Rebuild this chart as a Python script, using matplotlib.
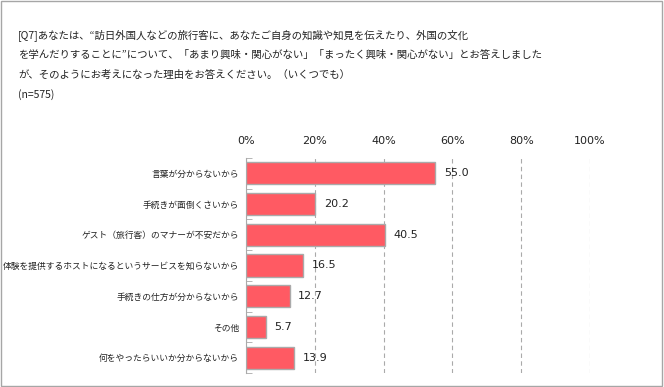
import matplotlib
matplotlib.use('Agg')
import matplotlib.pyplot as plt
from matplotlib.patches import Rectangle

plt.rcParams['font.family'] = ['Noto Sans CJK JP', 'DejaVu Sans']

categories = ['言葉が分からないから', '手続きが面倒くさいから', 'ゲスト（旅行客）のマナーが不安だから',
              '体験を提供するホストになるというサービスを知らないから', '手続きの仕方が分からないから',
              'その他', '何をやったらいいか分からないから']
values = [55.0, 20.2, 40.5, 16.5, 12.7, 5.7, 13.9]
ticks = [0, 20, 40, 60, 80, 100]
tick_labels = ['0%', '20%', '40%', '60%', '80%', '100%']

title_lines = ['[Q7]あなたは、“訪日外国人などの旅行客に、あなたご自身の知識や知見を伝えたり、外国の文化',
               'を学んだりすることに”について、「あまり興味・関心がない」「まったく興味・関心がない」とお答えしました',
               'が、そのようにお考えになった理由をお答えください。（いくつでも）',
               '(n=575)']

bar_color = '#FF5A63'

fig = plt.figure(figsize=(6.64, 3.87), dpi=100)
fig.patches.append(Rectangle((0.002, 0.003), 0.995, 0.994, transform=fig.transFigure,
                             fill=False, edgecolor='#A6A6A6', linewidth=1))

for i, line in enumerate(title_lines):
    fig.text(18/664, 1 - (35 + i*20)/387, line, fontsize=7.5, va='center', ha='left', color='#222222')

ax = fig.add_axes([246/664, 14/387, 344/664, 215/387])
y = list(range(len(categories)))
ax.barh(y, values, height=0.72, color=bar_color, edgecolor='#AAAAAA', linewidth=1, zorder=3)
for yi, v in zip(y, values):
    ax.text(v + 2.5, yi, f'{v:.1f}', va='center', ha='left', fontsize=8, color='#222222',
            family='DejaVu Sans', zorder=4)

ax.set_xlim(0, 100)
ax.set_ylim(len(categories) - 0.5, -0.5)
ax.set_xticks(ticks)
ax.set_xticklabels(tick_labels, fontsize=8, family='DejaVu Sans', color='#222222')
ax.xaxis.tick_top()
ax.tick_params(axis='x', length=0, pad=9)
ax.set_yticks(y)
ax.set_yticklabels(categories, fontsize=6.3, color='#222222')
ax.tick_params(axis='y', length=0, pad=5)
ax.set_yticks([i + 0.5 for i in range(-1, len(categories))], minor=True)
ax.tick_params(axis='y', which='minor', direction='in', length=4, color='#AAAAAA')
ax.grid(axis='x', linestyle=(0, (4, 3)), color='#AAAAAA', linewidth=0.8, zorder=0)
for s in ['top', 'right', 'bottom']:
    ax.spines[s].set_visible(False)
ax.spines['left'].set_color('#AAAAAA')

fig.savefig('out.png', dpi=100)
